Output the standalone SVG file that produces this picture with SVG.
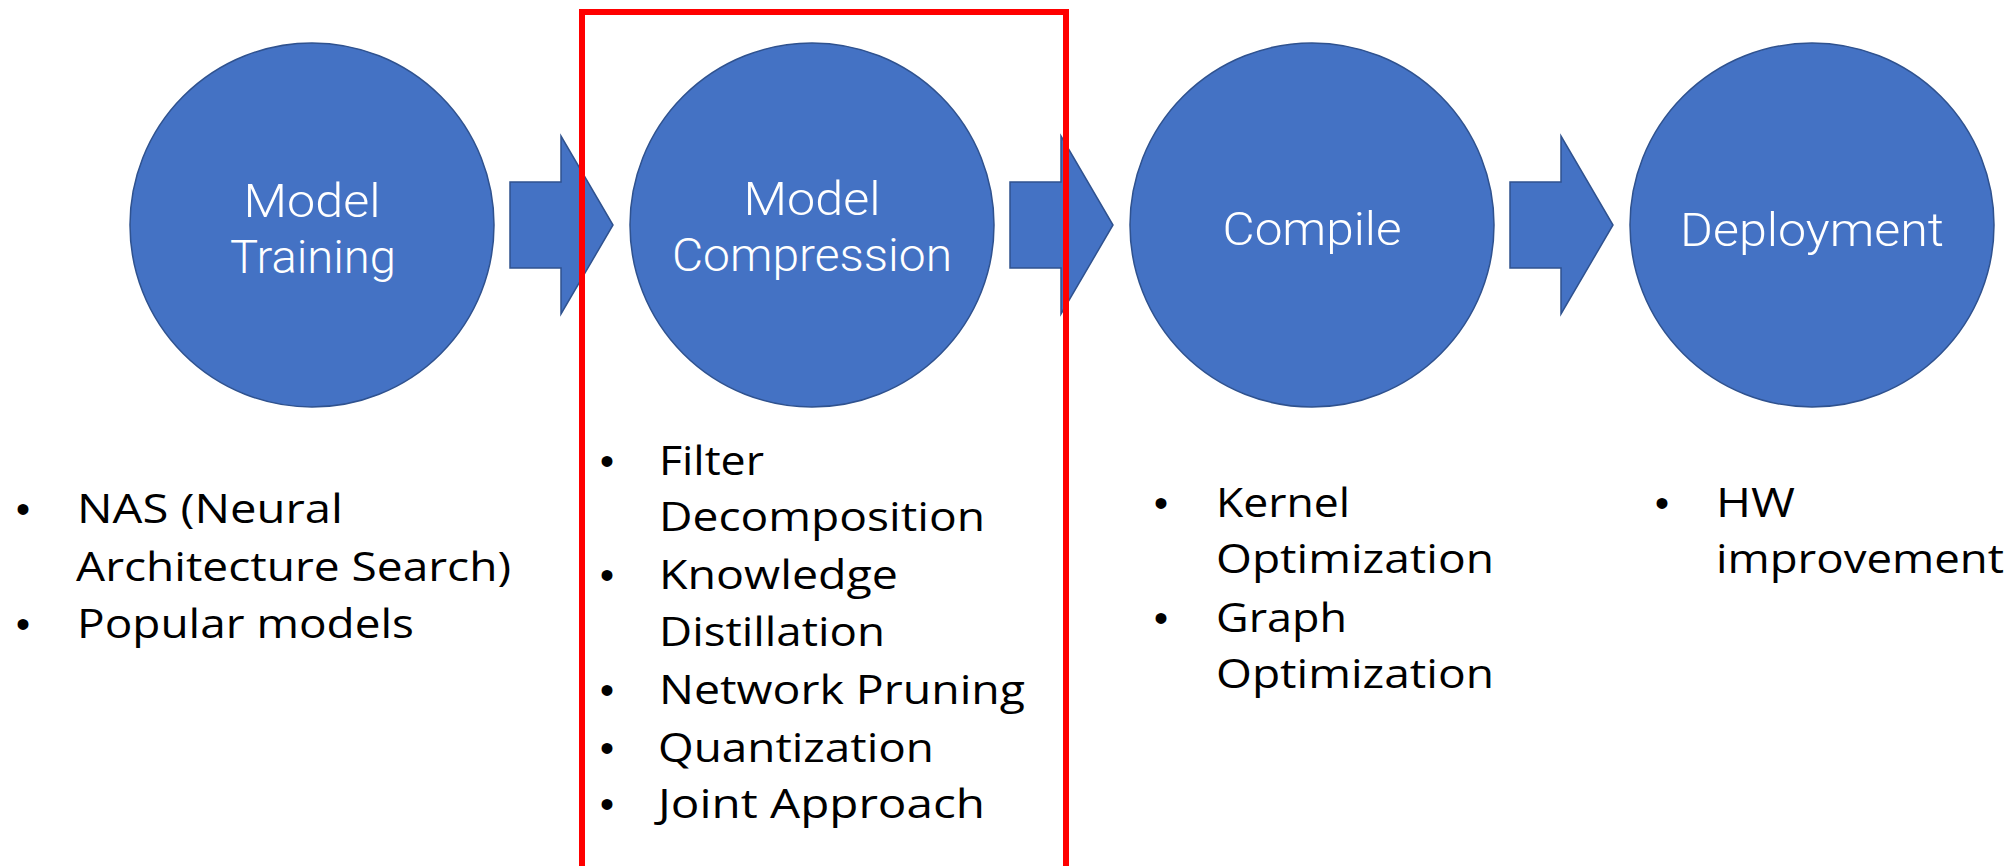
<svg xmlns="http://www.w3.org/2000/svg" width="2009" height="866" viewBox="0 0 2009 866">
<style>
.node{fill:#4472C4;stroke:#2F528F;stroke-width:1.5}
.arrow{fill:#4472C4;stroke:#2F528F;stroke-width:1.5}
.ctext{font-family:Roboto,"Liberation Sans",sans-serif;font-weight:300;font-size:47px;fill:#FFFFFF;text-anchor:middle}
.btext{font-family:"Open Sans","Liberation Sans",sans-serif;font-weight:400;font-size:40px;fill:#000000}
.bullet{font-family:"Liberation Sans",sans-serif;font-size:40px;fill:#000000;text-anchor:middle}
.frame{fill:none;stroke:#FF0000;stroke-width:6}
</style>
<rect width="2009" height="866" fill="#FFFFFF"/>
<g id="connectors">
<path class="arrow" d="M510,182 H561 V136 L613,225 L561,314 V268 H510 Z"/>
<path class="arrow" d="M1010,182 H1061 V136 L1113,225 L1061,314 V268 H1010 Z"/>
<path class="arrow" d="M1510,182 H1561 V136 L1613,225 L1561,314 V268 H1510 Z"/>
</g>
<g id="node-training">
<circle class="node" cx="312" cy="225" r="182"/>
<text class="ctext" x="312" y="217" textLength="137" lengthAdjust="spacingAndGlyphs">Model</text>
<text class="ctext" x="313" y="273" textLength="166" lengthAdjust="spacingAndGlyphs">Training</text>
</g>
<g id="node-compression">
<circle class="node" cx="812" cy="225" r="182"/>
<text class="ctext" x="812" y="215" textLength="137" lengthAdjust="spacingAndGlyphs">Model</text>
<text class="ctext" x="812" y="271" textLength="280" lengthAdjust="spacingAndGlyphs">Compression</text>
</g>
<g id="node-compile">
<circle class="node" cx="1312" cy="225" r="182"/>
<text class="ctext" x="1312" y="245" textLength="179" lengthAdjust="spacingAndGlyphs">Compile</text>
</g>
<g id="node-deployment">
<circle class="node" cx="1812" cy="225" r="182"/>
<text class="ctext" x="1812" y="246" textLength="264" lengthAdjust="spacingAndGlyphs">Deployment</text>
</g>
<g id="list-training">
<text class="bullet" x="23" y="523">•</text>
<text class="btext" x="77" y="523" textLength="266" lengthAdjust="spacingAndGlyphs">NAS (Neural</text>
<text class="btext" x="76" y="581" textLength="435" lengthAdjust="spacingAndGlyphs">Architecture Search)</text>
<text class="bullet" x="23" y="638">•</text>
<text class="btext" x="77" y="638" textLength="337" lengthAdjust="spacingAndGlyphs">Popular models</text>
</g>
<g id="list-compression">
<text class="bullet" x="607" y="475">•</text>
<text class="btext" x="659" y="475" textLength="105" lengthAdjust="spacingAndGlyphs">Filter</text>
<text class="btext" x="659" y="531" textLength="326" lengthAdjust="spacingAndGlyphs">Decomposition</text>
<text class="bullet" x="607" y="589">•</text>
<text class="btext" x="659" y="589" textLength="239" lengthAdjust="spacingAndGlyphs">Knowledge</text>
<text class="btext" x="659" y="646" textLength="226" lengthAdjust="spacingAndGlyphs">Distillation</text>
<text class="bullet" x="607" y="704">•</text>
<text class="btext" x="659" y="704" textLength="366" lengthAdjust="spacingAndGlyphs">Network Pruning</text>
<text class="bullet" x="607" y="762">•</text>
<text class="btext" x="658" y="762" textLength="276" lengthAdjust="spacingAndGlyphs">Quantization</text>
<text class="bullet" x="607" y="818">•</text>
<text class="btext" x="658" y="818" textLength="327" lengthAdjust="spacingAndGlyphs">Joint Approach</text>
</g>
<g id="list-compile">
<text class="bullet" x="1161" y="517">•</text>
<text class="btext" x="1216" y="517" textLength="134" lengthAdjust="spacingAndGlyphs">Kernel</text>
<text class="btext" x="1216" y="573" textLength="278" lengthAdjust="spacingAndGlyphs">Optimization</text>
<text class="bullet" x="1161" y="632">•</text>
<text class="btext" x="1216" y="632" textLength="131" lengthAdjust="spacingAndGlyphs">Graph</text>
<text class="btext" x="1216" y="688" textLength="278" lengthAdjust="spacingAndGlyphs">Optimization</text>
</g>
<g id="list-deployment">
<text class="bullet" x="1662" y="517">•</text>
<text class="btext" x="1716" y="517" textLength="79" lengthAdjust="spacingAndGlyphs">HW</text>
<text class="btext" x="1716" y="573" textLength="288" lengthAdjust="spacingAndGlyphs">improvement</text>
</g>
<g id="highlight-frame">
<rect class="frame" x="582" y="12" width="484" height="900"/>
</g>
</svg>
